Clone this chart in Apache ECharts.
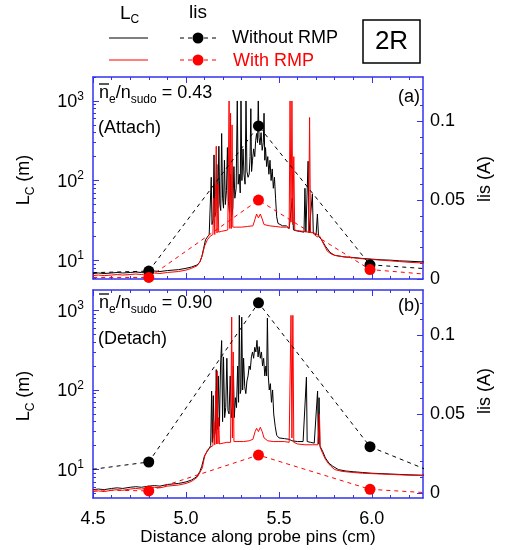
<!DOCTYPE html>
<html><head><meta charset="utf-8">
<script src="https://cdn.jsdelivr.net/npm/echarts@6/dist/echarts.min.js"></script>
<style>html,body{margin:0;padding:0;background:#fff}#c{width:506px;height:550px}</style>
</head><body><div id="c"></div>
<script>
// ---------- tick values ----------
const xMajorTicks = [4.5, 5.0, 5.5, 6.0];
const xMinorTicks = [4.6,4.7,4.8,4.9,5.1,5.2,5.3,5.4,5.6,5.7,5.8,5.9,6.1,6.2];
const lcMajorTicks = [10, 100, 1000];
const lcMinorTicks = [4,5,6,7,8,9,20,30,40,50,60,70,80,90,200,300,400,500,600,700,800,900,2000];
const lisMajorTicks = [0, 0.05, 0.1];
const lisMinorTicks = [0.01,0.02,0.03,0.04,0.06,0.07,0.08,0.09,0.11,0.12];

// ---------- panel (a) : attach ----------
const lcA_noRMP = [[4.50,6.8],[4.53,6.9],[4.56,6.8],[4.60,6.9],[4.63,7.0],[4.66,6.9],[4.70,7.0],[4.73,7.1],[4.76,7.0],[4.80,7.2],[4.83,7.3],[4.86,7.2],[4.90,7.4],[4.93,7.5],[4.96,7.6],[5.00,7.9],[5.03,8.2],[5.06,8.7],[5.075,9.5],[5.085,11],[5.095,14],[5.105,18],[5.115,19.5],[5.125,21],[5.130,22],[5.136,110],[5.140,28],[5.146,32],[5.151,210],[5.155,35],[5.161,40],[5.166,160],[5.171,45],[5.177,270],[5.182,50],[5.187,42],[5.192,390],[5.197,60],[5.202,45],[5.207,180],[5.212,50],[5.218,75],[5.223,260],[5.228,55],[5.234,40],[5.240,120],[5.245,35],[5.252,45],[5.258,150],[5.263,60],[5.270,80],[5.276,1000],[5.281,90],[5.287,120],[5.292,70],[5.296,1000],[5.301,100],[5.307,250],[5.312,120],[5.318,90],[5.323,1000],[5.328,130],[5.334,110],[5.340,120],[5.345,200],[5.349,800],[5.353,130],[5.358,180],[5.364,250],[5.370,200],[5.375,320],[5.380,390],[5.385,300],[5.389,1000],[5.393,350],[5.398,280],[5.404,400],[5.410,240],[5.416,300],[5.420,700],[5.424,180],[5.428,260],[5.434,150],[5.440,200],[5.446,120],[5.452,180],[5.458,100],[5.464,140],[5.470,80],[5.476,110],[5.482,60],[5.488,35],[5.495,29],[5.52,27],[5.54,27],[5.555,25],[5.565,24],[5.572,60],[5.578,24],[5.59,23.5],[5.61,23],[5.635,22.5],[5.640,80],[5.645,22.5],[5.652,22],[5.657,175],[5.662,22],[5.672,21.5],[5.680,68],[5.685,21.5],[5.70,21],[5.707,38],[5.713,20],[5.73,18],[5.75,15],[5.775,12.5],[5.80,11.5],[5.85,11],[5.90,10.8],[5.95,10.5],[6.00,10.3],[6.05,10.1],[6.10,10.0],[6.15,9.8],[6.20,9.7],[6.28,9.5]];
const lcA_RMP = [[4.50,6.4],[4.53,6.5],[4.56,6.4],[4.60,6.5],[4.63,6.6],[4.66,6.5],[4.70,6.6],[4.73,6.7],[4.76,6.6],[4.80,6.8],[4.83,6.9],[4.86,6.8],[4.90,7.0],[4.93,7.1],[4.96,7.2],[5.00,7.5],[5.03,7.9],[5.06,8.5],[5.075,9.5],[5.088,11.5],[5.10,15],[5.115,18],[5.13,20],[5.145,21],[5.150,60],[5.155,21],[5.160,22],[5.163,270],[5.167,22],[5.172,90],[5.176,22.5],[5.19,23],[5.21,23.5],[5.225,24],[5.232,1000],[5.236,25],[5.240,700],[5.244,25],[5.248,500],[5.252,26],[5.27,26],[5.30,26],[5.33,26.5],[5.36,27],[5.372,33],[5.38,38],[5.39,34],[5.40,38],[5.41,33],[5.42,28],[5.45,27],[5.48,26.5],[5.51,26],[5.54,26],[5.555,25],[5.560,1000],[5.565,30],[5.570,1000],[5.575,28],[5.580,200],[5.585,24],[5.60,23.5],[5.63,23],[5.66,22.5],[5.665,620],[5.670,22.5],[5.69,22],[5.72,20],[5.74,16],[5.76,13],[5.78,12],[5.80,11.5],[5.85,11],[5.90,10.7],[5.95,10.4],[6.00,10.2],[6.05,10],[6.10,9.8],[6.15,9.6],[6.20,9.4],[6.28,9.2]];
const lisA_noRMP = [[4.2,0.003],[4.8,0.005],[5.39,0.097],[5.99,0.009],[6.6,0.004]];
const lisA_RMP = [[4.2,0.001],[4.8,0.001],[5.39,0.050],[5.99,0.006],[6.6,0.0]];

// ---------- panel (b) : detach ----------
const lcB_noRMP = [[4.50,5.6],[4.53,5.7],[4.56,5.6],[4.60,5.8],[4.63,5.9],[4.66,5.8],[4.70,6.0],[4.73,6.1],[4.76,6.0],[4.80,6.2],[4.83,6.3],[4.86,6.2],[4.90,6.5],[4.93,6.6],[4.96,6.7],[5.00,7.0],[5.03,7.4],[5.06,8.2],[5.075,9.5],[5.085,11],[5.10,15],[5.115,17],[5.125,18.5],[5.133,20],[5.138,97],[5.142,22],[5.147,85],[5.152,25],[5.158,30],[5.163,180],[5.168,32],[5.174,150],[5.180,35],[5.186,200],[5.192,417],[5.197,40],[5.202,260],[5.208,45],[5.214,60],[5.220,250],[5.226,55],[5.232,50],[5.238,150],[5.244,45],[5.250,60],[5.255,200],[5.260,45],[5.266,80],[5.272,60],[5.278,200],[5.283,70],[5.287,865],[5.292,90],[5.296,100],[5.300,820],[5.305,100],[5.310,250],[5.316,110],[5.322,90],[5.328,130],[5.334,150],[5.340,200],[5.346,180],[5.352,260],[5.358,300],[5.364,250],[5.370,343],[5.376,300],[5.382,420],[5.388,260],[5.394,350],[5.400,250],[5.406,300],[5.412,200],[5.418,250],[5.424,150],[5.430,200],[5.434,150],[5.438,800],[5.443,150],[5.448,100],[5.454,120],[5.460,70],[5.466,100],[5.472,50],[5.480,35],[5.488,27],[5.50,25],[5.53,24.5],[5.555,24],[5.57,23],[5.60,22.5],[5.63,22.5],[5.648,145],[5.652,22.5],[5.67,22],[5.69,21.5],[5.708,97],[5.712,21],[5.716,80],[5.720,20],[5.735,17],[5.75,14],[5.77,12],[5.79,11],[5.82,10],[5.86,9.6],[5.90,9.4],[5.95,9.2],[6.00,9.0],[6.05,8.9],[6.10,8.8],[6.15,8.7],[6.20,8.6],[6.28,8.5]];
const lcB_RMP = [[4.50,5.3],[4.53,5.4],[4.56,5.3],[4.60,5.5],[4.63,5.6],[4.66,5.5],[4.70,5.7],[4.73,5.8],[4.76,5.7],[4.80,5.9],[4.83,6.0],[4.86,5.9],[4.90,6.2],[4.93,6.3],[4.96,6.4],[5.00,6.7],[5.03,7.1],[5.06,8.0],[5.075,9.2],[5.088,10.5],[5.10,14.5],[5.115,17.5],[5.13,19],[5.145,20],[5.150,40],[5.155,20.5],[5.160,97],[5.164,21],[5.168,174],[5.172,21],[5.176,45],[5.180,21],[5.20,21.5],[5.22,22],[5.24,22],[5.246,822],[5.250,25],[5.254,300],[5.258,22.5],[5.28,22.5],[5.31,22.5],[5.34,23],[5.36,24],[5.372,30],[5.38,33],[5.39,30],[5.40,34],[5.41,30],[5.42,25],[5.44,23],[5.47,22.5],[5.50,22.5],[5.53,22.5],[5.555,22],[5.565,865],[5.570,25],[5.575,865],[5.580,22],[5.60,21],[5.64,20.5],[5.68,20.5],[5.71,20.5],[5.718,50],[5.722,19],[5.735,16],[5.75,13.5],[5.765,12],[5.78,11],[5.80,10],[5.84,9.5],[5.90,9.2],[5.95,9.0],[6.00,8.9],[6.05,8.8],[6.10,8.7],[6.15,8.6],[6.20,8.5],[6.28,8.4]];
const lisB_noRMP = [[4.2,0.0104],[4.8,0.0196],[5.39,0.1204],[5.99,0.0293],[6.6,0.0]];
const lisB_RMP = [[4.2,0.0025],[4.8,0.0013],[5.39,0.024],[5.99,0.0023],[6.6,-0.002]];

const xLabels = ['4.5','5.0','5.5','6.0'];

// ---------- styles ----------
const FONT = 'Liberation Sans, Arial, Helvetica, sans-serif';
const BLUE = '#3333ee';
const RED = '#ff0000';
const XMIN = 4.5, XMAX = 6.275;

const panels = [
  {top: 77, height: 202, lcMin: 5.8, lcMax: 2000, lisMin: 0, lisMax: 0.128,
   lcWo: lcA_noRMP, lcW: lcA_RMP, lisWo: lisA_noRMP, lisW: lisA_RMP, showX: false},
  {top: 290, height: 208, lcMin: 4.4, lcMax: 1800, lisMin: -0.0032, lisMax: 0.1285,
   lcWo: lcB_noRMP, lcW: lcB_RMP, lisWo: lisB_noRMP, lisW: lisB_RMP, showX: true}
];

const grids = [], xAxes = [], yAxes = [], series = [];
panels.forEach((p, g) => {
  grids.push({left: 93, width: 330, top: p.top, height: p.height, containLabel: false, outerBoundsMode: 'none'});
  const xa = (pos, ticks, len, line, lab) => ({
    gridIndex: g, type: 'value', position: pos, min: XMIN, max: XMAX,
    axisLine: {show: line, onZero: false, lineStyle: {color: BLUE, width: 1.5}},
    axisTick: {show: true, inside: true, length: len, customValues: ticks, lineStyle: {color: BLUE, width: 1}},
    axisLabel: {show: lab, customValues: xMajorTicks, margin: 12, fontSize: 18, color: '#000', fontFamily: FONT,
      formatter: v => xLabels[xMajorTicks.indexOf(Math.round(v*10)/10)] || ''},
    splitLine: {show: false}
  });
  xAxes.push(xa('bottom', xMajorTicks, 6, true, p.showX));
  xAxes.push(xa('bottom', xMinorTicks, 3, false, false));
  xAxes.push(xa('top', xMajorTicks, 6, true, false));
  xAxes.push(xa('top', xMinorTicks, 3, false, false));

  const lcMin = lcMinorTicks.filter(v => v >= p.lcMin && v <= p.lcMax);
  const ya = (ticks, len, line, lab) => ({
    gridIndex: g, type: 'log', logBase: 10, position: 'left', min: p.lcMin, max: p.lcMax,
    axisLine: {show: line, onZero: false, lineStyle: {color: BLUE, width: 1.5}},
    axisTick: {show: true, inside: true, length: len, customValues: ticks, lineStyle: {color: BLUE, width: 1}},
    axisLabel: {show: lab, customValues: lcMajorTicks, margin: 9, color: '#000',
      formatter: v => '{b|10}{s|' + Math.round(Math.log10(v)) + '}',
      rich: {b: {fontSize: 18, fontFamily: FONT, color: '#000', verticalAlign: 'bottom', lineHeight: 20},
             s: {fontSize: 12, fontFamily: FONT, color: '#000', verticalAlign: 'bottom', padding: [0,0,9,0]}}},
    splitLine: {show: false}
  });
  yAxes.push(ya(lcMajorTicks, 6, true, true));
  yAxes.push(ya(lcMin, 3, false, false));
  const ra = (ticks, len, line, lab) => ({
    gridIndex: g, type: 'value', position: 'right', min: p.lisMin, max: p.lisMax,
    axisLine: {show: line, onZero: false, lineStyle: {color: BLUE, width: 1.5}},
    axisTick: {show: true, inside: true, length: len, customValues: ticks, lineStyle: {color: BLUE, width: 1}},
    axisLabel: {show: lab, customValues: lisMajorTicks, margin: 7, fontSize: 18, color: '#000', fontFamily: FONT,
      formatter: v => (Math.abs(v) < 1e-9 ? '0' : String(Math.round(v*100)/100))},
    splitLine: {show: false}
  });
  yAxes.push(ra(lisMajorTicks, 6, true, true));
  yAxes.push(ra(lisMinorTicks, 3, false, false));

  const xi = g*4, yl = g*4, yr = g*4 + 2;
  series.push({type: 'line', xAxisIndex: xi, yAxisIndex: yl, data: p.lcWo, symbol: 'none', z: 2,
    lineStyle: {color: '#000', width: 1}, animation: false});
  series.push({type: 'line', xAxisIndex: xi, yAxisIndex: yl, data: p.lcW, symbol: 'none', z: 3,
    lineStyle: {color: RED, width: 1}, animation: false});
  series.push({type: 'line', xAxisIndex: xi, yAxisIndex: yr, data: p.lisWo, symbol: 'circle', symbolSize: 11, z: 4,
    itemStyle: {color: '#000'}, lineStyle: {color: '#000', width: 1, type: [4,4]}, animation: false});
  series.push({type: 'line', xAxisIndex: xi, yAxisIndex: yr, data: p.lisW, symbol: 'circle', symbolSize: 11, z: 4,
    itemStyle: {color: RED}, lineStyle: {color: RED, width: 1, type: [4,4]}, animation: false});
});

const subRich = (size, color) => ({
  b: {fontSize: size, fontFamily: FONT, fill: color, verticalAlign: 'top', lineHeight: size + 2},
  s: {fontSize: 12, fontFamily: FONT, fill: color, verticalAlign: 'top', padding: [Math.round(size*0.5),0,0,0]}
});
const txt = (x, y, text, opts) => Object.assign({type: 'text', x: x, y: y, z: 100,
  style: Object.assign({text: text, fontSize: 18, fontFamily: FONT, fill: '#000', textAlign: 'left', textVerticalAlign: 'middle'}, opts || {})});

const graphic = [
  // legend
  txt(120, 15, '{b|L}{s|C}', {rich: subRich(19, '#000')}),
  txt(198, 13, 'lis', {fontSize: 19, textAlign: 'center'}),
  {type: 'line', shape: {x1: 109, y1: 38, x2: 148, y2: 38}, style: {stroke: '#000', lineWidth: 1.2}},
  {type: 'line', shape: {x1: 109, y1: 60, x2: 148, y2: 60}, style: {stroke: RED, lineWidth: 1.2}},
  {type: 'line', shape: {x1: 180, y1: 38, x2: 218, y2: 38}, style: {stroke: '#000', lineWidth: 1, lineDash: [4,4]}},
  {type: 'line', shape: {x1: 180, y1: 60, x2: 218, y2: 60}, style: {stroke: RED, lineWidth: 1, lineDash: [4,4]}},
  {type: 'circle', shape: {cx: 198, cy: 38, r: 5.5}, style: {fill: '#000'}},
  {type: 'circle', shape: {cx: 198, cy: 60, r: 5.5}, style: {fill: RED}},
  txt(232, 38, 'Without RMP'),
  txt(233, 61, 'With RMP', {fill: RED}),
  {type: 'rect', shape: {x: 363, y: 20, width: 57, height: 43}, style: {fill: 'none', stroke: '#000', lineWidth: 1.5}},
  txt(391.5, 42, '2R', {fontSize: 26, textAlign: 'center'}),
  // panel annotations
  txt(99, 95, '{b|n}{s|e}{b|/n}{s|sudo}{b| = 0.43}', {rich: subRich(18, '#000')}),
  {type: 'line', shape: {x1: 99, y1: 84, x2: 109, y2: 84}, style: {stroke: '#000', lineWidth: 1.3}},
  txt(98, 128, '(Attach)'),
  txt(420, 97, '(a)', {textAlign: 'right'}),
  txt(99, 305, '{b|n}{s|e}{b|/n}{s|sudo}{b| = 0.90}', {rich: subRich(18, '#000')}),
  {type: 'line', shape: {x1: 99, y1: 294, x2: 109, y2: 294}, style: {stroke: '#000', lineWidth: 1.3}},
  txt(98, 339, '(Detach)'),
  txt(420, 306, '(b)', {textAlign: 'right'}),
  // axis names
  Object.assign(txt(26, 180, '{b|L}{s|C}{b| (m)}', {rich: subRich(18, '#000'), textAlign: 'center'}), {rotation: Math.PI/2}),
  Object.assign(txt(26, 396, '{b|L}{s|C}{b| (m)}', {rich: subRich(18, '#000'), textAlign: 'center'}), {rotation: Math.PI/2}),
  Object.assign(txt(485, 179, 'lis (A)', {textAlign: 'center'}), {rotation: Math.PI/2}),
  Object.assign(txt(485, 391, 'lis (A)', {textAlign: 'center'}), {rotation: Math.PI/2}),
  txt(258, 537, 'Distance along probe pins (cm)', {fontSize: 17, textAlign: 'center'})
];

const chart = echarts.init(document.getElementById('c'), null, {renderer: 'canvas'});
chart.setOption({
  backgroundColor: '#fff',
  animation: false,
  grid: grids, xAxis: xAxes, yAxis: yAxes, series: series, graphic: graphic
});
</script></body></html>
